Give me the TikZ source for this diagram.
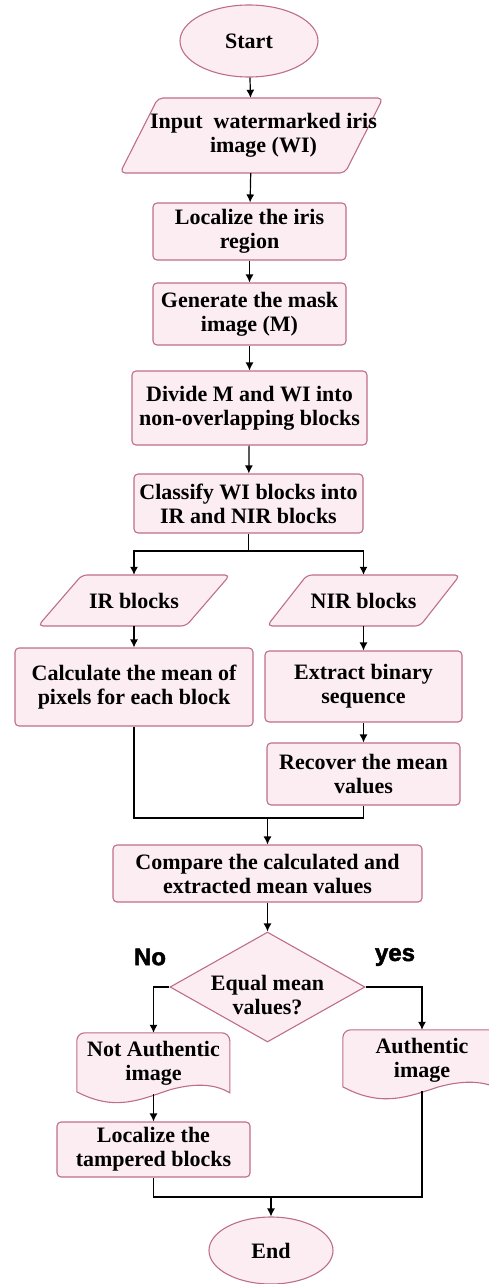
\documentclass[tikz,border=0pt]{standalone}
\usepackage{fontspec}
\setmainfont{Liberation Serif}
\newfontfamily\labfont{Liberation Sans}[BoldFeatures={FakeBold=2}]
\usetikzlibrary{shapes.geometric,arrows.meta,backgrounds}
\definecolor{bd}{RGB}{190,110,138}
\definecolor{fl}{RGB}{252,237,242}
\begin{document}
\begin{tikzpicture}[x=1pt,y=-1pt,
  txt/.style={align=center,inner sep=0pt,font=\fontsize{22pt}{24pt}\selectfont\bfseries},
  base/.style={txt,draw=bd,fill=fl,line width=1.1pt},
  proc/.style={base,rectangle,rounded corners=4pt},
  term/.style={base,ellipse},
  iobox/.style={txt,rectangle,draw=none},
  docbox/.style={txt,rectangle,draw=none},
  docline/.style={draw=bd,fill=fl,line width=1.1pt},
  arr/.style={-{Latex[length=8pt,width=8pt]},line width=1.2pt},
  ln/.style={line width=1.2pt},
  yn/.style={font=\labfont\fontsize{24pt}{26pt}\selectfont\bfseries,inner sep=0pt}
]
\useasboundingbox (0,0) rectangle (489,1284);

\node[term,minimum width=138pt,minimum height=72pt] (start) at (249,41) {Start};
\node[iobox,minimum width=225pt,minimum height=75pt,
  label={[txt,xshift=12pt]center:Input\ \ watermarked iris\\image (WI)}] (input) at (251.5,135.5) {};
\node[proc,minimum width=193pt,minimum height=57pt] (loc) at (249.5,231.5) {Localize the iris\\region};
\node[proc,minimum width=193pt,minimum height=62pt] (gen) at (249.5,314) {Generate the mask\\image (M)};
\node[proc,minimum width=235pt,minimum height=74pt] (div) at (249.5,408) {Divide M and WI into\\non-overlapping blocks};
\node[proc,minimum width=229pt,minimum height=59pt] (cls) at (248.5,503.5) {Classify WI blocks into\\IR and NIR blocks};
\node[iobox,minimum width=148pt,minimum height=51pt] (ir) at (134,600.5) {IR blocks};
\node[iobox,minimum width=153pt,minimum height=51pt] (nir) at (363.5,600.5) {NIR blocks};
\node[proc,minimum width=238pt,minimum height=78pt] (calc) at (134,687) {Calculate the mean of\\pixels for each block};
\node[proc,minimum width=197pt,minimum height=71pt] (ext) at (363.5,686.5) {Extract binary\\sequence};
\node[proc,minimum width=193pt,minimum height=62pt] (rec) at (363.5,774) {Recover the mean\\values};
\node[proc,minimum width=309pt,minimum height=57pt] (cmp) at (267.5,873.5) {Compare the calculated and\\extracted mean values};
\node[base,diamond,aspect=1.77,minimum width=195pt,minimum height=110pt,
  label={[txt,yshift=-8pt]center:Equal mean\\values?}] (dec) at (267.5,987) {};
\node[docbox,minimum width=153pt,minimum height=60pt] (na) at (153.5,1063) {Not Authentic\\image};
\node[docbox,minimum width=158pt,minimum height=60pt] (au) at (422,1060) {Authentic\\image};
\node[proc,minimum width=193pt,minimum height=55pt] (lt) at (153.5,1149.5) {Localize the\\tampered blocks};
\node[term,minimum width=124pt,minimum height=67pt] (end) at (271,1250.5) {End};

\node[yn] (no) at (150,957) {No};
\node[yn] (yes) at (395,957) {yes};

\begin{scope}[on background layer]
  % parallelograms
  \begin{scope}[shift={(input.center)}]
    \draw[docline,rounded corners=5pt] (-93.5,-37.5) -- (131.5,-37.5) -- (93.5,37.5) -- (-131.5,37.5) -- cycle;
  \end{scope}
  \begin{scope}[shift={(ir.center)}]
    \draw[docline,rounded corners=5pt] (-52,-25.5) -- (96,-25.5) -- (52,25.5) -- (-96,25.5) -- cycle;
  \end{scope}
  \begin{scope}[shift={(nir.center)}]
    \draw[docline,rounded corners=5pt] (-56.5,-25.5) -- (96.5,-25.5) -- (56.5,25.5) -- (-96.5,25.5) -- cycle;
  \end{scope}
  % documents
  \begin{scope}[shift={(na.north west)}]
    \draw[docline] (0,59) [rounded corners=8pt] -- (0,0) -- (153,0) [sharp corners] -- (153,60)
      .. controls (138,51) and (118,50) .. (93,57)
      .. controls (63,67) and (38,79) .. (0,59) -- cycle;
  \end{scope}
  \begin{scope}[shift={(au.north west)}]
    \draw[docline] (0,57) [rounded corners=8pt] -- (0,0) -- (158,0) [sharp corners] -- (158,60)
      .. controls (142,51) and (122,50) .. (96,57)
      .. controls (65,67) and (39,78) .. (0,57) -- cycle;
  \end{scope}
\end{scope}

\coordinate (s1) at (248.5,551);
\coordinate (m1) at (267.5,818);
\coordinate (nab) at (153.5,1094);
\coordinate (aub) at (422,1091);
\coordinate (m2) at (271,1197);

\draw[arr] (start) -- (input);
\draw[arr] (input) -- (loc);
\draw[arr] (loc) -- (gen);
\draw[arr] (gen) -- (div);
\draw[arr] (div) -- (cls);
\draw[ln] (cls.south) -- (s1);
\draw[arr] (s1) -| (ir.north);
\draw[arr] (s1) -| (nir.north);
\draw[arr] (ir.south) -- (calc.north);
\draw[arr] (nir.south) -- (ext.north);
\draw[arr] (ext) -- (rec);
\draw[ln] (calc.south) |- (m1);
\draw[ln] (rec.south) |- (m1);
\draw[arr] (m1) -- (cmp.north);
\draw[arr] (cmp) -- (dec);
\draw[arr] (dec.west) -| (na.north);
\draw[arr] (dec.east) -| (au.north);
\draw[arr] (nab) -- (lt.north);
\draw[ln] (lt.south) |- (m2);
\draw[ln] (aub) |- (m2);
\draw[arr] (m2) -- (end.north);
\end{tikzpicture}
\end{document}
